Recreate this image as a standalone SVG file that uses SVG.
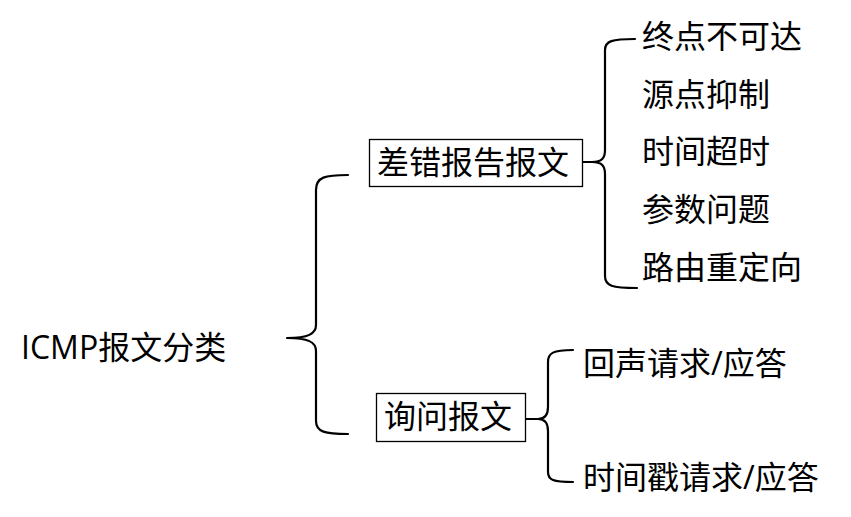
<svg xmlns="http://www.w3.org/2000/svg" width="851" height="517" viewBox="0 0 851 517">
<style>
text{font-family:"Open Sans","Noto Sans CJK SC","Microsoft YaHei",sans-serif;font-size:32px;fill:#000}
.box{fill:#fff;stroke:#000;stroke-width:1.3}
.br{fill:none;stroke:#000;stroke-width:2.2;stroke-linecap:round;stroke-linejoin:round}
</style>
<rect width="851" height="517" fill="#fff"/>
<g id="connectors">
<path class="br" d="M348,175 C325,175 316,177 316,190 L316,325 C316,334 308,338 287,338 C308,338 316,342 316,351 L316,421 C316,432 325,434 348,434"/>
<path class="br" d="M583,162 L592,162 C602,162 605,158 605,150 L605,50 C605,41 612,39 635,39 M592,162 C602,162 605,166 605,174 L605,276 C605,286 612,288 637,288"/>
<path class="br" d="M526,419 L538,419 C545,419 548,415 548,407 L548,362 C548,353 553,350 573,350 M538,419 C545,419 548,423 548,431 L548,472 C548,480 553,482 573,482"/>
</g>
<g id="root"><text x="21" y="359">ICMP报文分类</text></g>
<g id="n-error"><rect class="box" x="369.5" y="139.5" width="213" height="47"/><text x="377" y="174">差错报告报文</text></g>
<g id="n-query"><rect class="box" x="376.5" y="393.5" width="149" height="48"/><text x="384" y="428">询问报文</text></g>
<g id="e1"><text x="642" y="48">终点不可达</text></g>
<g id="e2"><text x="642" y="106">源点抑制</text></g>
<g id="e3"><text x="642" y="163">时间超时</text></g>
<g id="e4"><text x="642" y="221">参数问题</text></g>
<g id="e5"><text x="642" y="279">路由重定向</text></g>
<g id="q1"><text x="583" y="375">回声请求/应答</text></g>
<g id="q2"><text x="583" y="489">时间戳请求/应答</text></g>
</svg>
